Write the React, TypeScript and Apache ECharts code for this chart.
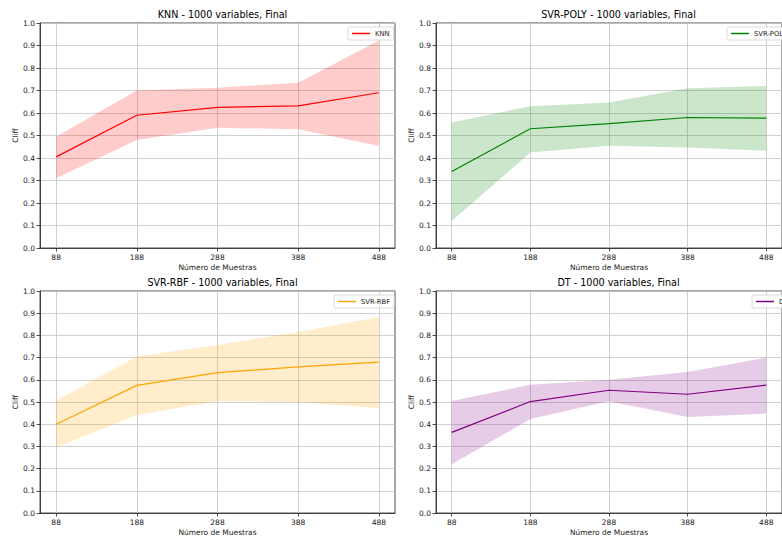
import React, { useEffect, useRef } from "react";
import * as echarts from "echarts";

const samples = [88, 188, 288, 388, 488];
const yTicks = [0, 0.1, 0.2, 0.3, 0.4, 0.5, 0.6, 0.7, 0.8, 0.9, 1.0];

const knnMean = [0.405, 0.59, 0.625, 0.632, 0.69];
const knnUpper = [0.495, 0.7, 0.712, 0.735, 0.922];
const knnLower = [0.31, 0.48, 0.535, 0.528, 0.453];

const polyMean = [0.34, 0.53, 0.553, 0.58, 0.577];
const polyUpper = [0.558, 0.63, 0.647, 0.71, 0.72];
const polyLower = [0.12, 0.425, 0.455, 0.447, 0.432];

const rbfMean = [0.4, 0.575, 0.632, 0.658, 0.68];
const rbfUpper = [0.507, 0.705, 0.757, 0.815, 0.883];
const rbfLower = [0.295, 0.44, 0.505, 0.5, 0.472];

const dtMean = [0.363, 0.502, 0.553, 0.535, 0.576];
const dtUpper = [0.505, 0.578, 0.6, 0.635, 0.7];
const dtLower = [0.22, 0.423, 0.503, 0.432, 0.448];

const models = ["KNN", "SVR-POLY", "SVR-RBF", "DT"];
const colors = ["#ff0000", "#008000", "#ffa500", "#800080"];
const fills = [
  "rgba(255,0,0,0.2)",
  "rgba(0,128,0,0.2)",
  "rgba(255,165,0,0.2)",
  "rgba(128,0,128,0.2)",
];
const means = [knnMean, polyMean, rbfMean, dtMean];
const uppers = [knnUpper, polyUpper, rbfUpper, dtUpper];
const lowers = [knnLower, polyLower, rbfLower, dtLower];

const FONT = "DejaVu Sans";

export default function App() {
  const ref = useRef<HTMLDivElement>(null);
  useEffect(() => {
    if (!ref.current) return;
    const chart = echarts.init(ref.current, undefined, { renderer: "svg" });
    const gridPos = [
      { left: 40, top: 23 },
      { left: 436, top: 23 },
      { left: 40, top: 291 },
      { left: 436, top: 291 },
    ];
    const legendPos = [
      { left: 348, top: 27 },
      { left: 727, top: 27 },
      { left: 334, top: 295 },
      { left: 752, top: 295 },
    ];
    const grids = gridPos.map((g) => ({
      left: g.left,
      top: g.top,
      width: 355,
      height: 225,
      show: true,
      borderColor: "#222",
      borderWidth: 0.8,
      backgroundColor: "transparent",
    }));
    const xAxes = models.map((_, i) => ({
      type: "value",
      gridIndex: i,
      min: 68,
      max: 508,
      axisLine: { show: true, onZero: false, lineStyle: { color: "#222", width: 0.8 } },
      axisTick: {
        show: true,
        customValues: samples,
        length: 3.5,
        lineStyle: { color: "#222", width: 0.8 },
      },
      axisLabel: {
        customValues: samples,
        fontSize: 7.5,
        color: "#222",
        margin: 5,
        fontFamily: FONT,
      },
      splitLine: { show: true, lineStyle: { color: "#c4c4c4", width: 0.8 } },
      name: "Número de Muestras",
      nameLocation: "middle",
      nameGap: 15,
      nameTextStyle: { fontSize: 7.5, color: "#222", fontFamily: FONT },
    }));
    const yAxes = models.map((_, i) => ({
      type: "value",
      gridIndex: i,
      min: yTicks[0],
      max: yTicks[yTicks.length - 1],
      interval: 0.1,
      axisLine: { show: true, lineStyle: { color: "#222", width: 0.8 } },
      axisTick: { show: true, length: 3.5, lineStyle: { color: "#222", width: 0.8 } },
      axisLabel: {
        fontSize: 7.5,
        color: "#222",
        margin: 5,
        fontFamily: FONT,
        formatter: (v: number) => v.toFixed(1),
      },
      splitLine: { show: true, lineStyle: { color: "#c4c4c4", width: 0.8 } },
      name: "Cliff",
      nameLocation: "middle",
      nameGap: 20,
      nameRotate: 90,
      nameTextStyle: { fontSize: 7.5, color: "#222", fontFamily: FONT },
    }));
    const titles = models.map((m, i) => ({
      text: `${m} - 1000 variables, Final`,
      left: gridPos[i].left + 177.5,
      top: gridPos[i].top - 19,
      textAlign: "center",
      textStyle: { fontSize: 9.6, fontWeight: "normal", color: "#000", fontFamily: FONT },
    }));
    const legends = models.map((m, i) => ({
      data: [m],
      left: legendPos[i].left,
      top: legendPos[i].top,
      orient: "vertical",
      icon: "rect",
      itemWidth: 18,
      itemHeight: 1.5,
      itemGap: 4,
      padding: [3, 4, 3, 4],
      borderColor: "#d0d0d0",
      borderWidth: 0.8,
      borderRadius: 2,
      backgroundColor: "rgba(255,255,255,0.8)",
      textStyle: { fontSize: 6.8, color: "#222", fontFamily: FONT },
      selectedMode: false,
    }));
    const series: any[] = [];
    models.forEach((m, i) => {
      const up = uppers[i];
      const lo = lowers[i];
      series.push({
        type: "custom",
        name: m + " band",
        xAxisIndex: i,
        yAxisIndex: i,
        z: 1,
        silent: true,
        data: samples.map((x, k) => [x, up[k]]),
        encode: { x: 0, y: 1 },
        renderItem: (params: any, api: any) => {
          if (params.dataIndexInside !== 0) return { type: "group", children: [] };
          const pts: number[][] = [];
          samples.forEach((x, k) => pts.push(api.coord([x, up[k]])));
          for (let k = samples.length - 1; k >= 0; k--) pts.push(api.coord([samples[k], lo[k]]));
          return {
            type: "polygon",
            shape: { points: pts },
            style: { fill: fills[i], stroke: "none" },
          };
        },
      });
      series.push({
        type: "line",
        name: m,
        xAxisIndex: i,
        yAxisIndex: i,
        z: 3,
        showSymbol: false,
        color: colors[i],
        lineStyle: { color: colors[i], width: 1.2 },
        data: samples.map((x, k) => [x, means[i][k]]),
      });
    });
    chart.setOption({
      animation: false,
      backgroundColor: "#fff",
      title: titles,
      legend: legends,
      grid: grids,
      xAxis: xAxes,
      yAxis: yAxes,
      series,
    });
    return () => chart.dispose();
  }, []);
  return (
    <div
      ref={ref}
      style={{ position: "absolute", left: 0, top: 0, width: 782, height: 537 }}
    />
  );
}
